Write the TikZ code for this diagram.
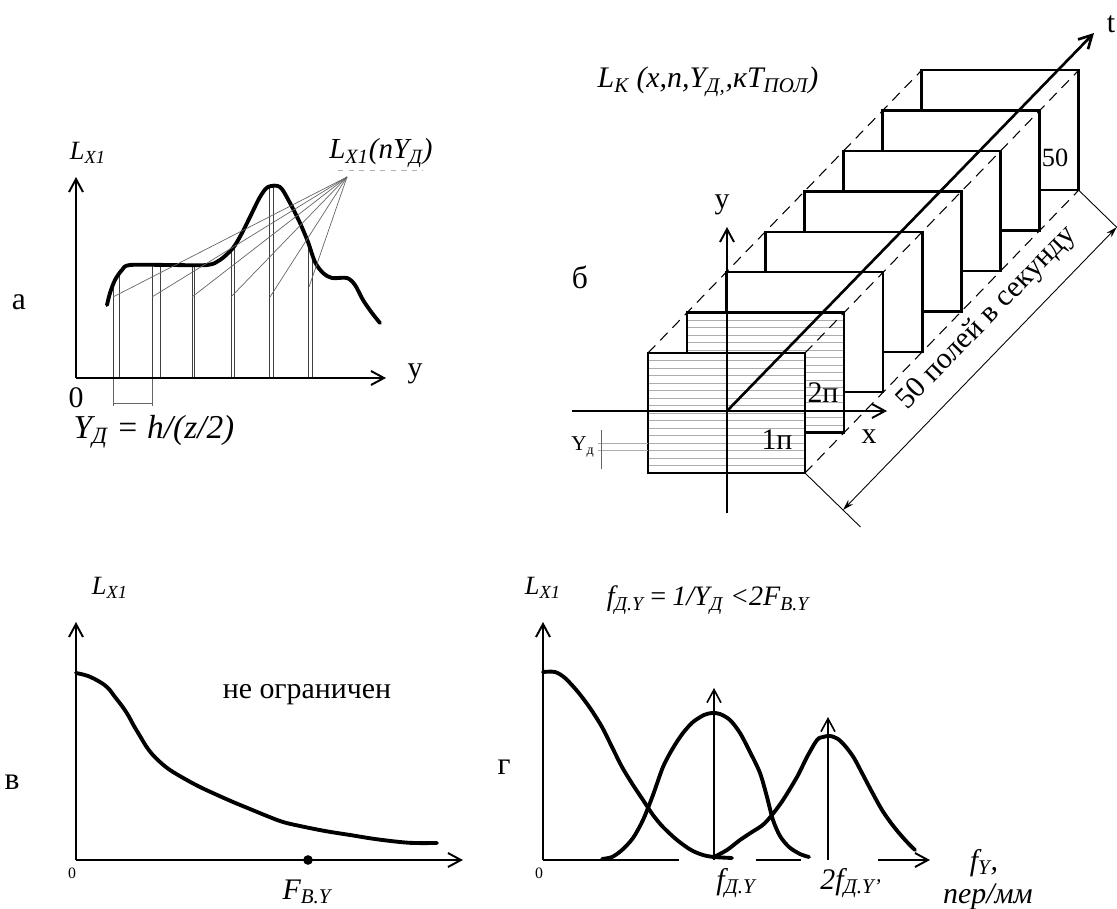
\documentclass[tikz,border=0pt]{standalone}
\usepackage{fontspec}
\setmainfont{Liberation Serif}[Ligatures=TeX]
\usetikzlibrary{arrows.meta,calc}
\newcommand{\sbs}[1]{\textsubscript{\itshape #1}}

\begin{document}
\begin{tikzpicture}[x=0.02cm, y=-0.02cm,
    ax/.style={line width=1.1pt, -{Straight Barb[length=2.6mm,width=2.8mm]}},
    trace/.style={line width=2.2pt, line join=round, line cap=round},
    samp/.style={black!75, line width=0.5pt},
    fanline/.style={gray!80!black, line width=0.4pt},
    fieldbox/.style={line width=1.4pt},
    hatch/.style={gray!65, line width=0.5pt},
    rim/.style={line width=0.6pt, dash pattern=on 6pt off 4pt},
    dimline/.style={line width=0.5pt},
    panel/.style={font=\fontsize{18}{20}\selectfont},
    lbl/.style={font=\fontsize{15}{17}\selectfont\itshape},
    big/.style={font=\fontsize{19}{21}\selectfont\itshape},
    mid/.style={font=\fontsize{17}{19}\selectfont},
    tiny0/.style={font=\fontsize{9}{10}\selectfont},
    dot/.style={circle, fill, inner sep=0pt, minimum size=5.5pt},
]
\useasboundingbox (0,0) rectangle (1117,909);

% а
\node[panel] (la) at (19,302) {а};
\coordinate (aO) at (76,378);
\coordinate (aY) at (76,177);
\coordinate (aX) at (386,378);
\coordinate (aF) at (347,177);
\begin{scope}
\clip plot[smooth, tension=0.5] coordinates {(107,305) (110,293) (115,280) (122,270) (130,265) (170,265) (207,265) (220,260) (233,248) (242,233) (250,217) (260,197) (268,187) (280,187) (290,203) (300,223) (308,242) (315,262) (323,273) (332,278) (347,278) (355,285) (363,300) (372,313) (380,323)} -- (380,378) -- (107,378) -- cycle;
\foreach \x in {113,119,152,160,192,194.5,231,234,269.5,273,308,312}
  \draw[samp] (\x,378) -- (\x,150);
\end{scope}
\draw[trace] plot[smooth, tension=0.5] coordinates {(107,305) (110,293) (115,280) (122,270) (130,265) (170,265) (207,265) (220,260) (233,248) (242,233) (250,217) (260,197) (268,187) (280,187) (290,203) (300,223) (308,242) (315,262) (323,273) (332,278) (347,278) (355,285) (363,300) (372,313) (380,323)};
\foreach \x/\y in {113/297, 152/297, 192/297, 231/297, 270/297, 309/287}
  \draw[fanline] (aF) -- (\x,\y);
\draw[fanline] (113,378) -- (113,406) (152,378) -- (152,406) (113,403) -- (152,403);
\draw[ax] (aO) -- (aY);
\draw[ax] (aO) -- (aX);
\node[mid] (ay) at (415,374) {y};
\node[mid] (a0) at (76,398) {0};
\node[lbl] (aL) at (88,153) {L\sbs{X1}};
\node[lbl, font=\fontsize{16.5}{18}\selectfont\itshape] (aLn) at (381,153) {L\sbs{X1}(nY\sbs{Д})};
\draw[gray!60, line width=0.4pt, dashed] (338,170) -- (423,170);
\node[big] (aYd) at (154,432) {Y\sbs{Д} = h/(z/2)};

% б
\node[panel] (lb) at (580,277) {б};
\foreach \k in {7,6,...,2}
  \draw[fieldbox, fill=white] ({648+39.1*\k},{353-40.4*\k}) rectangle ++(157,120);
\foreach \k in {1,0} {
  \fill[white] ({648+39.1*\k},{353-40.4*\k}) rectangle ++(157,120);
  \foreach \i in {1,...,15}
    \draw[hatch] ({648+39.1*\k},{353-40.4*\k+7.5*\i}) -- ++(157,0);
  \draw[fieldbox] ({648+39.1*\k},{353-40.4*\k}) rectangle ++(157,120);
}
\draw[hatch] (598,443) -- (648,443) (598,450.5) -- (648,450.5);
\draw[fanline] (601,430) -- (601,469);
\node[font=\fontsize{12}{14}\selectfont] (bYd) at (583,447) {Y\textsubscript{д}};
\coordinate (bO) at (727,411);
\coordinate (bW) at (572,411);
\coordinate (bX) at (887,411);
\coordinate (bS) at (727,513);
\coordinate (bY) at (727,227);
\coordinate (bT) at (1094,33);
\draw[ax] (bW) -- (bX);
\draw[ax] (bS) -- (bY);
\draw[ax, line width=1.5pt] (bO) -- (bT);
\coordinate (bTL1) at (648,353);
\coordinate (bTL8) at (921.7,70.2);
\coordinate (bTR1) at (805,353);
\coordinate (bTR8) at (1078.7,70.2);
\coordinate (bBR1) at (805,473);
\coordinate (bBR8) at (1078.7,190.2);
\draw[rim] (bTL1) -- (bTL8);
\draw[rim] (bTR1) -- (bTR8);
\draw[rim] (bBR1) -- (bBR8);
\coordinate (bE1) at ($(bBR1)+(55.5,54)$);
\coordinate (bE8) at ($(bBR8)+(41,40)$);
\coordinate (bD1) at ($(bBR1)+(38,37)$);
\coordinate (bD8) at ($(bBR8)+(38,37)$);
\draw[dimline] (bBR1) -- (bE1);
\draw[dimline] (bBR8) -- (bE8);
\draw[dimline, {Stealth[length=2.2mm,width=1.3mm]}-{Stealth[length=2.2mm,width=1.3mm]}] (bD1) -- (bD8);
\node[mid, font=\fontsize{17}{19}\selectfont, rotate=45.8] (bTxt) at (987,318) {50 полей в секунду};
\node[lbl, font=\fontsize{17}{19}\selectfont\itshape] (bL) at (708,82) {L\sbs{К} (x,n,Y\sbs{Д,},кT\sbs{ПОЛ})};
\node[mid, font=\fontsize{15}{17}\selectfont] (b50) at (1055,158) {50};
\node[mid] (b2) at (823,393) {2п};
\node[mid] (b1) at (777,440) {1п};
\node[mid] (by) at (722,205) {y};
\node[mid] (bx) at (869,437) {x};
\node[mid] (bt) at (1111,24) {t};

% в
\node[panel] (lc) at (12,782) {в};
\coordinate (cO) at (76,860);
\coordinate (cY) at (76,622);
\coordinate (cX) at (463,860);
\draw[ax] (cO) -- (cY);
\draw[ax] (cO) -- (cX);
\draw[trace] plot[smooth, tension=0.6] coordinates {(76,673) (88,676) (100,682) (108,688) (115,697) (122,706) (128,715) (134,726) (140,736) (146,746) (152,754) (160,762) (170,770) (185,779) (200,787) (215,794) (233,802) (250,809) (267,816) (283,822) (300,826) (325,831) (350,835) (375,839) (400,842) (415,843) (437,843)};
\node[dot] (cF) at (308,860) {};
\node[lbl] (cL) at (110,588) {L\sbs{X1}};
\node[mid] (cTxt) at (307,695) {не ограничен};
\node[big, font=\fontsize{17}{19}\selectfont\itshape] (cFby) at (307,892) {F\sbs{B.Y}};
\node[tiny0] (c0) at (72,873) {0};

% г
\node[panel] (ld) at (504,767) {г};
\coordinate (dO) at (543,860);
\coordinate (dY) at (543,622);
\coordinate (dA) at (679,860);
\coordinate (dB) at (756,860);
\coordinate (dC) at (801,860);
\coordinate (dD) at (878,860);
\coordinate (dX) at (930,860);
\draw[ax] (dO) -- (dY);
\draw[line width=1.1pt] (dO) -- (dA) (dB) -- (dC);
\draw[ax] (dD) -- (dX);
\draw[trace] plot[smooth, tension=0.5] coordinates {(543,672) (555,672) (565,678) (578,692) (590,708) (602,727) (612,747) (622,767) (633,785) (643,800) (653,815) (663,827) (677,840) (691,850) (703,855) (714,857) (732,858)};
\draw[trace] plot[smooth, tension=0.5] coordinates {(602,859) (612,857) (622,850) (633,838) (643,820) (653,795) (663,767) (673,748) (683,733) (693,722) (704,715) (712,713) (720,714) (730,720) (740,733) (750,752) (760,773) (767,797) (773,820) (780,836) (789,847) (800,854) (809,857)};
\draw[trace] plot[smooth, tension=0.5] coordinates {(714,857) (727,850) (740,840) (752,832) (765,823) (781,803) (797,777) (807,757) (817,740) (823,737) (830,736) (838,739) (846,747) (854,758) (862,773) (872,792) (882,810) (891,823) (899,833) (907,842) (915,850)};
\coordinate (dP1) at (714,860);
\coordinate (dQ1) at (714,688);
\coordinate (dP2) at (828,860);
\coordinate (dQ2) at (828,717);
\draw[ax, line width=0.9pt] (dP1) -- (dQ1);
\draw[ax, line width=0.9pt] (dP2) -- (dQ2);
\node[lbl] (dL) at (543,588) {L\sbs{X1}};
\node[lbl, font=\fontsize{16}{18}\selectfont\itshape] (dF) at (708,600) {f\sbs{Д.Y}\,=\,1/Y\sbs{Д} <2F\sbs{B.Y}};
\node[tiny0] (d0) at (539,873) {0};
\node[big, font=\fontsize{17}{19}\selectfont\itshape] (df1) at (736,883) {f\sbs{Д.Y}};
\node[big, font=\fontsize{17}{19}\selectfont\itshape] (df2) at (851,883) {2f\sbs{Д.Y'}};
\node[big, font=\fontsize{17}{19}\selectfont\itshape] (dfy) at (984,863) {f\sbs{Y},};
\node[big, font=\fontsize{17}{19}\selectfont\itshape] (dun) at (988,897) {пер/мм};
\end{tikzpicture}
\end{document}
